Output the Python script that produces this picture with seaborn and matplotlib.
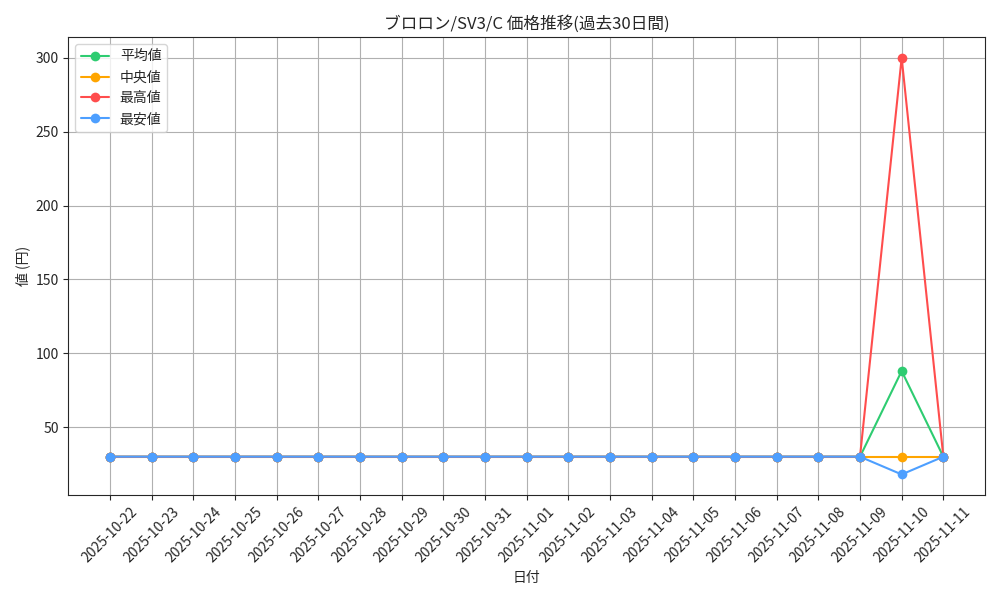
import pandas as pd
import seaborn as sns
from matplotlib import pyplot as plt

# 日付ごとの価格（過去30日間）
dates = ['2025-10-22', '2025-10-23', '2025-10-24', '2025-10-25', '2025-10-26',
         '2025-10-27', '2025-10-28', '2025-10-29', '2025-10-30', '2025-10-31',
         '2025-11-01', '2025-11-02', '2025-11-03', '2025-11-04', '2025-11-05',
         '2025-11-06', '2025-11-07', '2025-11-08', '2025-11-09', '2025-11-10',
         '2025-11-11']
mean_price = [30] * 19 + [88, 30]
median_price = [30] * 19 + [30, 30]
max_price = [30] * 19 + [300, 30]
min_price = [30] * 19 + [18, 30]

series_names = ['平均値', '中央値', '最高値', '最安値']
series_colors = ['#2ecc71', '#ffa500', '#ff4d4d', '#4d9fff']

df = pd.DataFrame({'日付': dates, '平均値': mean_price, '中央値': median_price,
                   '最高値': max_price, '最安値': min_price})
long_df = df.melt(id_vars='日付', var_name='種類', value_name='価格')

sns.set_style('ticks')
plt.rcParams['font.family'] = ['Noto Sans CJK JP', 'DejaVu Sans']

fig, ax = plt.subplots(figsize=(10, 6), dpi=100)
sns.lineplot(data=long_df, x='日付', y='価格', hue='種類', hue_order=series_names,
             palette=series_colors, marker='o', markersize=7, markeredgewidth=0,
             linewidth=1.5, ax=ax)

ax.set_title('ブロロン/SV3/C 価格推移(過去30日間)', fontsize=12)
ax.set_xlabel('日付')
ax.set_ylabel('値 (円)')
ax.grid(True, color='#b0b0b0', linewidth=0.8)
ax.tick_params(axis='x', rotation=45)
ax.legend(loc='upper left', title=None)
for label in ax.get_xticklabels():
    label.set_ha('center')

plt.tight_layout()
plt.savefig('out.png')
